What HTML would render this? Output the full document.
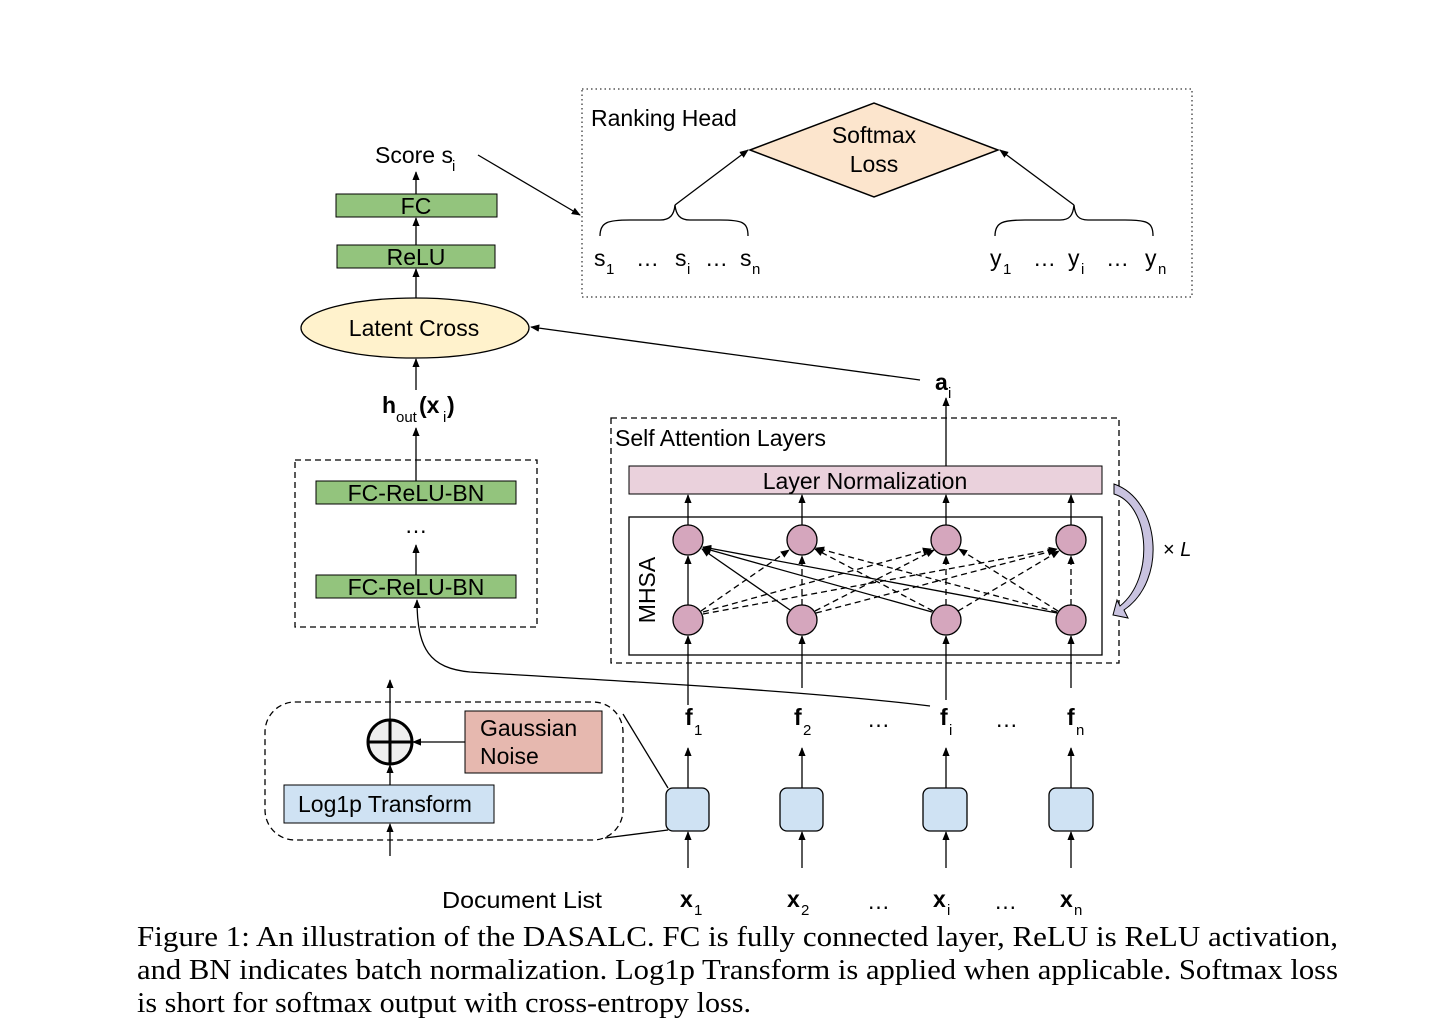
<!DOCTYPE html>
<html><head><meta charset="utf-8"><style>
html,body{margin:0;padding:0;background:#fff;}
svg{display:block;}
.s{font-family:"Liberation Sans",sans-serif;}
.c{font-family:"Liberation Serif",serif;font-size:28.5px;}
</style></head><body>
<svg width="1456" height="1035" viewBox="0 0 1456 1035" xmlns="http://www.w3.org/2000/svg">
<defs>
<marker id="a" viewBox="0 0 10 10" refX="9" refY="5" markerWidth="7" markerHeight="7" orient="auto-start-reverse"><path d="M0,1 L10,5 L0,9 z" fill="#000"/></marker>
</defs>
<g class="s" fill="#000" font-size="23">
<rect x="582" y="89" width="610" height="208" fill="none" stroke="#000" stroke-dasharray="1.5,3"/>
<text x="591" y="126">Ranking Head</text>
<polygon points="750,150 874,103 998,150 874,197" fill="#fce5cd" stroke="#000" stroke-width="1.5"/>
<text x="874" y="143" text-anchor="middle">Softmax</text>
<text x="874" y="172" text-anchor="middle">Loss</text>
<path d="M600,236 C600,222 608,220 630,220 L660,220 C670,220 674,215 675,205 C676,215 680,220 690,220 L720,220 C742,220 748,222 748,236" fill="none" stroke="#000" stroke-width="1.3"/>
<path d="M995,236 C995,222 1003,220 1025,220 L1060,220 C1070,220 1073,215 1074,205 C1075,215 1078,220 1088,220 L1125,220 C1147,220 1153,222 1153,236" fill="none" stroke="#000" stroke-width="1.3"/>
<line x1="675" y1="205" x2="748" y2="150" stroke="#000" stroke-width="1.3" marker-end="url(#a)"/>
<line x1="1074" y1="205" x2="1000" y2="150" stroke="#000" stroke-width="1.3" marker-end="url(#a)"/>
<text x="594" y="266">s</text><text x="606" y="274" font-size="15">1</text>
<text x="636" y="266">…</text>
<text x="675" y="266">s</text><text x="687" y="274" font-size="15">i</text>
<text x="705" y="266">…</text>
<text x="740" y="266">s</text><text x="752" y="274" font-size="15">n</text>
<text x="990" y="266">y</text><text x="1003" y="274" font-size="15">1</text>
<text x="1033" y="266">…</text>
<text x="1068" y="266">y</text><text x="1081" y="274" font-size="15">i</text>
<text x="1106" y="266">…</text>
<text x="1145" y="266">y</text><text x="1158" y="274" font-size="15">n</text>

<text x="375" y="163">Score s</text><text x="452" y="171" font-size="15">i</text>
<line x1="478" y1="155" x2="580" y2="215" stroke="#000" stroke-width="1.3" marker-end="url(#a)"/>
<line x1="416" y1="194" x2="416" y2="172" stroke="#000" stroke-width="1.3" marker-end="url(#a)"/>
<rect x="336" y="194" width="161" height="23" fill="#93c47d" stroke="#000"/>
<text x="416" y="214" text-anchor="middle">FC</text>
<line x1="416" y1="245" x2="416" y2="218" stroke="#000" stroke-width="1.3" marker-end="url(#a)"/>
<rect x="337" y="245" width="158" height="23" fill="#93c47d" stroke="#000"/>
<text x="416" y="265" text-anchor="middle">ReLU</text>
<line x1="416" y1="298" x2="416" y2="269" stroke="#000" stroke-width="1.3" marker-end="url(#a)"/>
<ellipse cx="415" cy="328" rx="114" ry="30" fill="#fff2cc" stroke="#000" stroke-width="1.3"/>
<text x="414" y="336" text-anchor="middle">Latent Cross</text>
<line x1="416" y1="390" x2="416" y2="359" stroke="#000" stroke-width="1.3" marker-end="url(#a)"/>
<text x="382" y="413" font-weight="bold">h</text><text x="396" y="422" font-size="15">out</text><text x="419" y="413" font-weight="bold">(x</text><text x="443" y="422" font-size="15">i</text><text x="447" y="413" font-weight="bold">)</text>
<line x1="416" y1="481" x2="416" y2="428" stroke="#000" stroke-width="1.3" marker-end="url(#a)"/>
<rect x="295" y="460" width="242" height="167" fill="none" stroke="#000" stroke-dasharray="6,4" stroke-width="1.3"/>
<rect x="316" y="481" width="200" height="23" fill="#93c47d" stroke="#000"/>
<text x="416" y="501" text-anchor="middle">FC-ReLU-BN</text>
<text x="416" y="533" text-anchor="middle">…</text>
<line x1="416" y1="575" x2="416" y2="545" stroke="#000" stroke-width="1.3" marker-end="url(#a)"/>
<rect x="316" y="575" width="200" height="23" fill="#93c47d" stroke="#000"/>
<text x="416" y="595" text-anchor="middle">FC-ReLU-BN</text>

<text x="935" y="390" font-weight="bold">a</text><text x="948" y="398" font-size="15">i</text>
<line x1="920" y1="380" x2="531" y2="327" stroke="#000" stroke-width="1.3" marker-end="url(#a)"/>
<line x1="946" y1="466" x2="946" y2="398" stroke="#000" stroke-width="1.3" marker-end="url(#a)"/>

<rect x="611" y="418" width="508" height="245" fill="none" stroke="#000" stroke-dasharray="6,4" stroke-width="1.3"/>
<text x="615" y="446">Self Attention Layers</text>
<rect x="629" y="466" width="473" height="28" fill="#ead1dc" stroke="#000"/>
<text x="865" y="489" text-anchor="middle">Layer Normalization</text>
<rect x="629" y="517" width="473" height="138" fill="none" stroke="#000" stroke-width="1.3"/>
<text transform="translate(655,590) rotate(-90)" text-anchor="middle">MHSA</text>
<g stroke="#000" stroke-width="1.3" fill="none">
<line x1="688" y1="525" x2="688" y2="495" marker-end="url(#a)"/>
<line x1="802" y1="525" x2="802" y2="495" marker-end="url(#a)"/>
<line x1="946" y1="525" x2="946" y2="495" marker-end="url(#a)"/>
<line x1="1071" y1="525" x2="1071" y2="495" marker-end="url(#a)"/>
<line x1="688" y1="605" x2="688" y2="556" marker-end="url(#a)"/>
<line x1="802" y1="605" x2="802" y2="556" marker-end="url(#a)" stroke-dasharray="6,4"/>
<line x1="946" y1="605" x2="946" y2="556" marker-end="url(#a)" stroke-dasharray="6,4"/>
<line x1="1071" y1="605" x2="1071" y2="556" marker-end="url(#a)" stroke-dasharray="6,4"/>
<line x1="790" y1="610" x2="702" y2="549" marker-end="url(#a)"/>
<line x1="932" y1="612" x2="703" y2="548" marker-end="url(#a)"/>
<line x1="1057" y1="613" x2="703" y2="547" marker-end="url(#a)"/>
<g stroke-dasharray="6,4">
<line x1="701" y1="611" x2="789" y2="550" marker-end="url(#a)"/>
<line x1="703" y1="612" x2="931" y2="549" marker-end="url(#a)"/>
<line x1="703" y1="614" x2="1057" y2="549" marker-end="url(#a)"/>
<line x1="815" y1="611" x2="934" y2="550" marker-end="url(#a)"/>
<line x1="816" y1="613" x2="1056" y2="550" marker-end="url(#a)"/>
<line x1="933" y1="611" x2="815" y2="549" marker-end="url(#a)"/>
<line x1="958" y1="611" x2="1059" y2="551" marker-end="url(#a)"/>
<line x1="1058" y1="611" x2="959" y2="549" marker-end="url(#a)"/>
<line x1="1057" y1="612" x2="816" y2="548" marker-end="url(#a)"/>
</g>
</g>
<g fill="#d5a6bd" stroke="#000" stroke-width="1.3">
<circle cx="688" cy="540" r="15"/><circle cx="802" cy="540" r="15"/><circle cx="946" cy="540" r="15"/><circle cx="1071" cy="540" r="15"/>
<circle cx="688" cy="620" r="15"/><circle cx="802" cy="620" r="15"/><circle cx="946" cy="620" r="15"/><circle cx="1071" cy="620" r="15"/>
</g>
<path d="M1114,484 C1160,500 1168,580 1124,610 L1128,618 L1113,615 L1117,600 L1120,606 C1155,578 1150,505 1114,494 z" fill="#c9c3e0" stroke="#000"/>
<text x="1163" y="556" font-size="20">× <tspan font-style="italic">L</tspan></text>

<g stroke="#000" stroke-width="1.3">
<line x1="688" y1="705" x2="688" y2="636" marker-end="url(#a)"/>
<line x1="802" y1="688" x2="802" y2="636" marker-end="url(#a)"/>
<line x1="946" y1="700" x2="946" y2="636" marker-end="url(#a)"/>
<line x1="1071" y1="688" x2="1071" y2="636" marker-end="url(#a)"/>
</g>
<path d="M930,706 C800,690 600,680 470,672 C430,668 417,650 417,600" fill="none" stroke="#000" stroke-width="1.3" marker-end="url(#a)"/>
<g font-weight="bold">
<text x="685" y="725">f</text><text x="794" y="725">f</text><text x="940" y="725">f</text><text x="1067" y="725">f</text>
</g>
<g font-size="15">
<text x="694" y="735">1</text><text x="803" y="735">2</text><text x="949" y="735">i</text><text x="1076" y="735">n</text>
</g>
<text x="867" y="727">…</text><text x="995" y="727">…</text>

<g fill="#cfe2f3" stroke="#000" stroke-width="1.3">
<rect x="666" y="788" width="43" height="43" rx="7"/>
<rect x="780" y="788" width="43" height="43" rx="7"/>
<rect x="923" y="788" width="44" height="43" rx="7"/>
<rect x="1049" y="788" width="44" height="43" rx="7"/>
</g>
<g stroke="#000" stroke-width="1.3">
<line x1="688" y1="788" x2="688" y2="748" marker-end="url(#a)"/>
<line x1="802" y1="788" x2="802" y2="748" marker-end="url(#a)"/>
<line x1="946" y1="788" x2="946" y2="748" marker-end="url(#a)"/>
<line x1="1071" y1="788" x2="1071" y2="748" marker-end="url(#a)"/>
<line x1="688" y1="868" x2="688" y2="832" marker-end="url(#a)"/>
<line x1="802" y1="868" x2="802" y2="832" marker-end="url(#a)"/>
<line x1="946" y1="868" x2="946" y2="832" marker-end="url(#a)"/>
<line x1="1071" y1="868" x2="1071" y2="832" marker-end="url(#a)"/>
<line x1="623" y1="714" x2="668" y2="788"/>
<line x1="605" y1="838" x2="668" y2="830"/>
</g>
<text x="442" y="908" textLength="160" lengthAdjust="spacingAndGlyphs">Document List</text>
<g font-weight="bold">
<text x="680" y="907">x</text><text x="787" y="907">x</text><text x="933" y="907">x</text><text x="1060" y="907">x</text>
</g>
<g font-size="15">
<text x="694" y="915">1</text><text x="801" y="915">2</text><text x="947" y="915">i</text><text x="1074" y="915">n</text>
</g>
<text x="867" y="909">…</text><text x="994" y="909">…</text>

<rect x="265" y="702" width="358" height="138" rx="30" fill="none" stroke="#000" stroke-dasharray="6,4" stroke-width="1.3"/>
<rect x="284" y="785" width="210" height="38" fill="#cfe2f3" stroke="#000"/>
<text x="298" y="812">Log1p Transform</text>
<rect x="465" y="711" width="137" height="62" fill="#e6b8af" stroke="#000"/>
<text x="480" y="736">Gaussian</text>
<text x="480" y="764">Noise</text>
<g stroke="#000" stroke-width="1.3">
<line x1="390" y1="856" x2="390" y2="824" marker-end="url(#a)"/>
<line x1="390" y1="785" x2="390" y2="765" marker-end="url(#a)"/>
<line x1="390" y1="720" x2="390" y2="680" marker-end="url(#a)"/>
<line x1="465" y1="742" x2="413" y2="742" marker-end="url(#a)"/>
</g>
<circle cx="390" cy="742" r="22" fill="#eee" stroke="#000" stroke-width="3"/>
<line x1="368" y1="742" x2="412" y2="742" stroke="#000" stroke-width="3"/>
<line x1="390" y1="720" x2="390" y2="764" stroke="#000" stroke-width="3"/>
</g>
<g class="c">
<text x="137" y="946" textLength="1201" lengthAdjust="spacingAndGlyphs">Figure 1:  An illustration of the DASALC. FC is fully connected layer, ReLU is ReLU activation,</text>
<text x="137" y="979" textLength="1201" lengthAdjust="spacingAndGlyphs">and BN indicates batch normalization. Log1p Transform is applied when applicable. Softmax loss</text>
<text x="137" y="1012" textLength="614" lengthAdjust="spacingAndGlyphs">is short for softmax output with cross-entropy loss.</text>
</g>
</svg>
</body></html>
